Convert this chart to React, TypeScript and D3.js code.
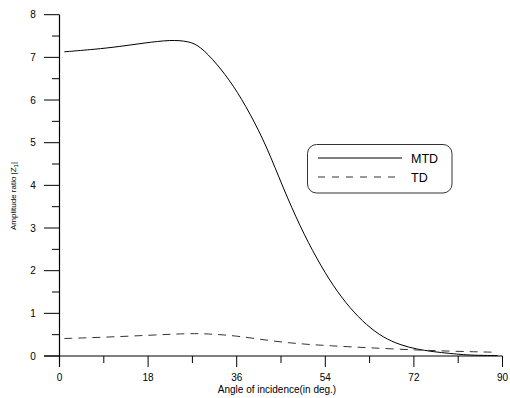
import React from "react";
import * as d3 from "d3";

const mtdAngle = [1, 7.3, 12, 17.4, 22.5, 26.2, 28.5, 31.9, 35.3, 38.7, 42.1, 45.5, 48.9, 52.3, 55.6, 59.0, 62.4, 65.8, 69.2, 72.5, 75.9, 79.3, 82, 85, 89];
const mtdValue = [7.13, 7.19, 7.25, 7.34, 7.41, 7.38, 7.27, 6.86, 6.35, 5.69, 4.91, 3.92, 3.03, 2.27, 1.64, 1.12, 0.72, 0.43, 0.26, 0.16, 0.10, 0.06, 0.03, 0.015, 0.01];
const tdAngle = [1, 9.3, 18, 26.2, 30, 35.7, 43.1, 49.2, 55, 62.4, 72.5, 80, 89];
const tdValue = [0.41, 0.44, 0.485, 0.53, 0.52, 0.48, 0.35, 0.28, 0.24, 0.195, 0.14, 0.11, 0.087];
const xTicks = [0, 18, 36, 54, 72, 90];
const yTicks = [0, 1, 2, 3, 4, 5, 6, 7, 8];
const seriesNames = ["MTD", "TD"];

export default function App() {
  const x = d3.scaleLinear().domain([0, 90]).range([59.5, 502.5]);
  const y = d3.scaleLinear().domain([0, 8]).range([356, 14.7]);
  const line = d3.line<[number, number]>().x(d => x(d[0])).y(d => y(d[1])).curve(d3.curveBasis);
  const mtd = line(mtdAngle.map((a, i) => [a, mtdValue[i]]) as [number, number][]) || "";
  const td = line(tdAngle.map((a, i) => [a, tdValue[i]]) as [number, number][]) || "";
  const font = "Arial, 'Liberation Sans', sans-serif";
  const minorX = d3.range(9, 90, 18);
  const minorY = d3.range(0.5, 8, 1);
  return (
    <svg width={510} height={398} style={{ position: "absolute", left: 0, top: 0, background: "#fff" }} fontFamily={font}>
      <rect width={510} height={398} fill="#fff" />
      {/* axes */}
      <line x1={44} x2={502.5} y1={356} y2={356} stroke="#000" strokeWidth={1.2} />
      <line x1={59.5} x2={59.5} y1={14.7} y2={367} stroke="#000" strokeWidth={1.2} />
      {xTicks.map(t => (
        <g key={"xt" + t}>
          <line x1={x(t)} x2={x(t)} y1={356} y2={367} stroke="#000" strokeWidth={1} />
          <text x={x(t)} y={381} fontSize={10} textAnchor="middle">{t}</text>
        </g>
      ))}
      {minorX.map(t => (
        <line key={"xm" + t} x1={x(t)} x2={x(t)} y1={356} y2={363} stroke="#000" strokeWidth={1} />
      ))}
      {yTicks.map(t => (
        <g key={"yt" + t}>
          <line x1={44} x2={59.5} y1={y(t)} y2={y(t)} stroke="#000" strokeWidth={1} />
          <text x={33} y={y(t) + 3.5} fontSize={10} textAnchor="middle">{t}</text>
        </g>
      ))}
      {minorY.map(t => (
        <line key={"ym" + t} x1={52} x2={59.5} y1={y(t)} y2={y(t)} stroke="#000" strokeWidth={1} />
      ))}
      <text x={277} y={393} fontSize={10} textAnchor="middle">Angle of incidence(in deg.)</text>
      <text transform="translate(16,196) rotate(-90)" fontSize={8} textAnchor="middle">
        Amplitude ratio |Z<tspan fontSize={6} dy={2}>1</tspan><tspan dy={-2}>|</tspan>
      </text>
      {/* curves */}
      <path d={mtd} fill="none" stroke="#000" strokeWidth={1} />
      <path d={td} fill="none" stroke="#333" strokeWidth={1} strokeDasharray="8,6" />
      {/* legend */}
      <rect x={307.5} y={144.5} width={144.5} height={48.5} rx={9} ry={9} fill="#fff" stroke="#333" strokeWidth={1} />
      <line x1={318} x2={402} y1={158} y2={158} stroke="#000" strokeWidth={1} />
      <line x1={318} x2={402} y1={177} y2={177} stroke="#333" strokeWidth={1} strokeDasharray="7,7" />
      <text x={411} y={162.5} fontSize={12.5}>{seriesNames[0]}</text>
      <text x={411} y={181.5} fontSize={12.5}>{seriesNames[1]}</text>
    </svg>
  );
}
